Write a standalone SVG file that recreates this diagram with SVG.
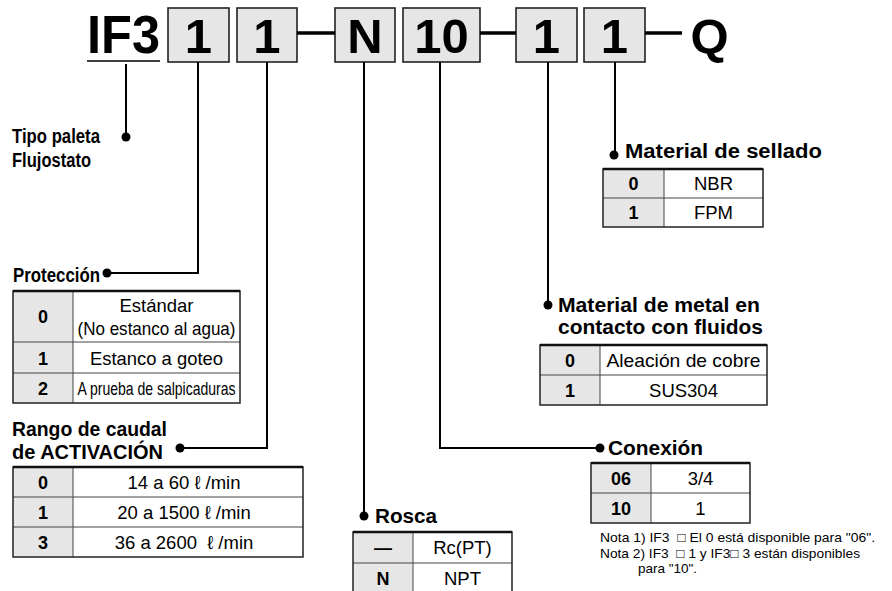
<svg xmlns="http://www.w3.org/2000/svg" width="892" height="591" viewBox="0 0 892 591">
<style>
text{font-family:"Liberation Sans",Arial,"DejaVu Sans",sans-serif;fill:#000}
.big{font-size:49px;font-weight:bold;text-anchor:middle}
.box{fill:#e6e6e6;stroke:#222;stroke-width:1.6}
.dash{stroke:#000;stroke-width:3.5}
.conn{stroke:#000;stroke-width:2;fill:none}
.dot{fill:#000}
.lbl{font-size:20px;font-weight:bold}
.key{fill:#e6e6e6}
.frame{fill:none;stroke:#222;stroke-width:1.5}
.top{stroke:#111;stroke-width:2.5}
.row{stroke:#444;stroke-width:1}
.tk{font-size:18px;font-weight:bold;text-anchor:middle}
.tv{font-size:18.5px;text-anchor:middle}
.note{font-size:13.5px}
</style>
<rect width="892" height="591" fill="#fff"/>

<g id="code">
<text x="87" y="53" font-size="54" font-weight="bold" textLength="73" lengthAdjust="spacingAndGlyphs">IF3</text>
<line x1="87" y1="61" x2="160" y2="61" stroke="#000" stroke-width="1.6"/>
<rect class="box" x="168" y="8" width="61" height="54"/>
<text class="big" x="198.5" y="53">1</text>
<rect class="box" x="237" y="8" width="60" height="54"/>
<text class="big" x="267" y="53">1</text>
<rect class="box" x="335" y="8" width="60" height="54"/>
<text class="big" x="365" y="53">N</text>
<rect class="box" x="403" y="8" width="77" height="54"/>
<text class="big" x="441.5" y="53">10</text>
<rect class="box" x="516" y="8" width="61" height="54"/>
<text class="big" x="546.5" y="53">1</text>
<rect class="box" x="584" y="8" width="61" height="54"/>
<text class="big" x="614.5" y="53">1</text>
<text class="big" x="709.5" y="53">Q</text>
<line class="dash" x1="297" y1="33" x2="335" y2="33"/>
<line class="dash" x1="480" y1="33" x2="516" y2="33"/>
<line class="dash" x1="645" y1="33" x2="682" y2="33"/>
</g>

<g id="connectors">
<polyline class="conn" points="126,64 126,137"/>
<circle class="dot" cx="126" cy="137" r="4.5"/>
<polyline class="conn" points="198,62 198,273 107,273"/>
<circle class="dot" cx="107" cy="273" r="4.5"/>
<polyline class="conn" points="267,62 267,448 180,448"/>
<circle class="dot" cx="180" cy="448" r="4.5"/>
<polyline class="conn" points="364,62 364,516"/>
<circle class="dot" cx="364" cy="516" r="4.5"/>
<polyline class="conn" points="440,62 440,448 600,448"/>
<circle class="dot" cx="600" cy="448" r="4.5"/>
<polyline class="conn" points="548,62 548,305"/>
<circle class="dot" cx="548" cy="305" r="4.5"/>
<polyline class="conn" points="615,62 615,155"/>
<circle class="dot" cx="614" cy="155" r="4.5"/>
</g>

<g id="tipo">
<text class="lbl" x="12" y="143" textLength="88" lengthAdjust="spacingAndGlyphs">Tipo paleta</text>
<text class="lbl" x="12" y="167" textLength="79" lengthAdjust="spacingAndGlyphs">Flujostato</text>
</g>

<g id="proteccion">
<text class="lbl" x="13" y="282" textLength="87" lengthAdjust="spacingAndGlyphs">Protección</text>
<rect class="key" x="13" y="291" width="60" height="112"/>
<line class="row" x1="13" y1="342" x2="240" y2="342"/>
<line class="row" x1="13" y1="373" x2="240" y2="373"/>
<line class="row" x1="73" y1="291" x2="73" y2="403"/>
<rect class="frame" x="13" y="291" width="227" height="112"/>
<line class="top" x1="13" y1="291" x2="240" y2="291"/>
<text class="tk" x="43" y="323">0</text>
<text class="tv" x="156.5" y="312">Estándar</text>
<text class="tv" x="156.5" y="335" textLength="158" lengthAdjust="spacingAndGlyphs">(No estanco al agua)</text>
<text class="tk" x="43" y="365">1</text>
<text class="tv" x="156.5" y="365" textLength="133" lengthAdjust="spacingAndGlyphs">Estanco a goteo</text>
<text class="tk" x="43" y="395">2</text>
<text class="tv" x="156.5" y="395" font-size="16" textLength="158" lengthAdjust="spacingAndGlyphs">A prueba de salpicaduras</text>
</g>

<g id="rango">
<text class="lbl" x="12" y="436" textLength="155" lengthAdjust="spacingAndGlyphs">Rango de caudal</text>
<text class="lbl" x="12" y="459" textLength="151" lengthAdjust="spacingAndGlyphs">de ACTIVACIÓN</text>
<rect class="key" x="13" y="467" width="60" height="90"/>
<line class="row" x1="13" y1="497" x2="303" y2="497"/>
<line class="row" x1="13" y1="527" x2="303" y2="527"/>
<line class="row" x1="73" y1="467" x2="73" y2="557"/>
<rect class="frame" x="13" y="467" width="290" height="90"/>
<line class="top" x1="13" y1="467" x2="303" y2="467"/>
<text class="tk" x="43" y="489">0</text>
<text class="tv" x="184" y="489">14 a 60 ℓ /min</text>
<text class="tk" x="43" y="519">1</text>
<text class="tv" x="184" y="519">20 a 1500 ℓ /min</text>
<text class="tk" x="43" y="549">3</text>
<text class="tv" x="184" y="549" xml:space="preserve">36 a 2600  ℓ /min</text>
</g>

<g id="rosca">
<text class="lbl" x="375" y="523" textLength="62" lengthAdjust="spacingAndGlyphs">Rosca</text>
<rect class="key" x="353" y="532" width="60" height="61"/>
<line class="row" x1="353" y1="563" x2="512" y2="563"/>
<line class="row" x1="413" y1="532" x2="413" y2="593"/>
<rect class="frame" x="353" y="532" width="159" height="61"/>
<line class="top" x1="353" y1="532" x2="512" y2="532"/>
<text class="tk" x="383" y="554">—</text>
<text class="tv" x="462.5" y="554">Rc(PT)</text>
<text class="tk" x="383" y="585">N</text>
<text class="tv" x="462.5" y="585">NPT</text>
</g>

<g id="sellado">
<text class="lbl" x="625" y="158" textLength="197" lengthAdjust="spacingAndGlyphs">Material de sellado</text>
<rect class="key" x="603" y="169" width="61" height="58"/>
<line class="row" x1="603" y1="198" x2="763" y2="198"/>
<line class="row" x1="664" y1="169" x2="664" y2="227"/>
<rect class="frame" x="603" y="169" width="160" height="58"/>
<line class="top" x1="603" y1="169" x2="763" y2="169"/>
<text class="tk" x="633.5" y="190">0</text>
<text class="tv" x="713.5" y="190">NBR</text>
<text class="tk" x="633.5" y="219">1</text>
<text class="tv" x="713.5" y="219">FPM</text>
</g>

<g id="metal">
<text class="lbl" x="558" y="312" textLength="202" lengthAdjust="spacingAndGlyphs">Material de metal en</text>
<text class="lbl" x="558" y="334" textLength="205" lengthAdjust="spacingAndGlyphs">contacto con fluidos</text>
<rect class="key" x="540" y="345" width="60" height="60"/>
<line class="row" x1="540" y1="375" x2="767" y2="375"/>
<line class="row" x1="600" y1="345" x2="600" y2="405"/>
<rect class="frame" x="540" y="345" width="227" height="60"/>
<line class="top" x1="540" y1="345" x2="767" y2="345"/>
<text class="tk" x="570" y="367">0</text>
<text class="tv" x="683.5" y="367" textLength="154" lengthAdjust="spacingAndGlyphs">Aleación de cobre</text>
<text class="tk" x="570" y="397">1</text>
<text class="tv" x="683.5" y="397">SUS304</text>
</g>

<g id="conexion">
<text class="lbl" x="608" y="455" textLength="95" lengthAdjust="spacingAndGlyphs">Conexión</text>
<rect class="key" x="591" y="463" width="60" height="60"/>
<line class="row" x1="591" y1="493" x2="750" y2="493"/>
<line class="row" x1="651" y1="463" x2="651" y2="523"/>
<rect class="frame" x="591" y="463" width="159" height="60"/>
<line class="top" x1="591" y1="463" x2="750" y2="463"/>
<text class="tk" x="621" y="485">06</text>
<text class="tv" x="700.5" y="485">3/4</text>
<text class="tk" x="621" y="515">10</text>
<text class="tv" x="700.5" y="515">1</text>
</g>

<g id="notas">
<text class="note" x="600" y="542" textLength="275" lengthAdjust="spacingAndGlyphs" xml:space="preserve">Nota 1) IF3  □ El 0 está disponible para "06".</text>
<text class="note" x="600" y="558" textLength="260" lengthAdjust="spacingAndGlyphs" xml:space="preserve">Nota 2) IF3  □ 1 y IF3□ 3 están disponibles</text>
<text class="note" x="638" y="573">para "10".</text>
</g>
</svg>
